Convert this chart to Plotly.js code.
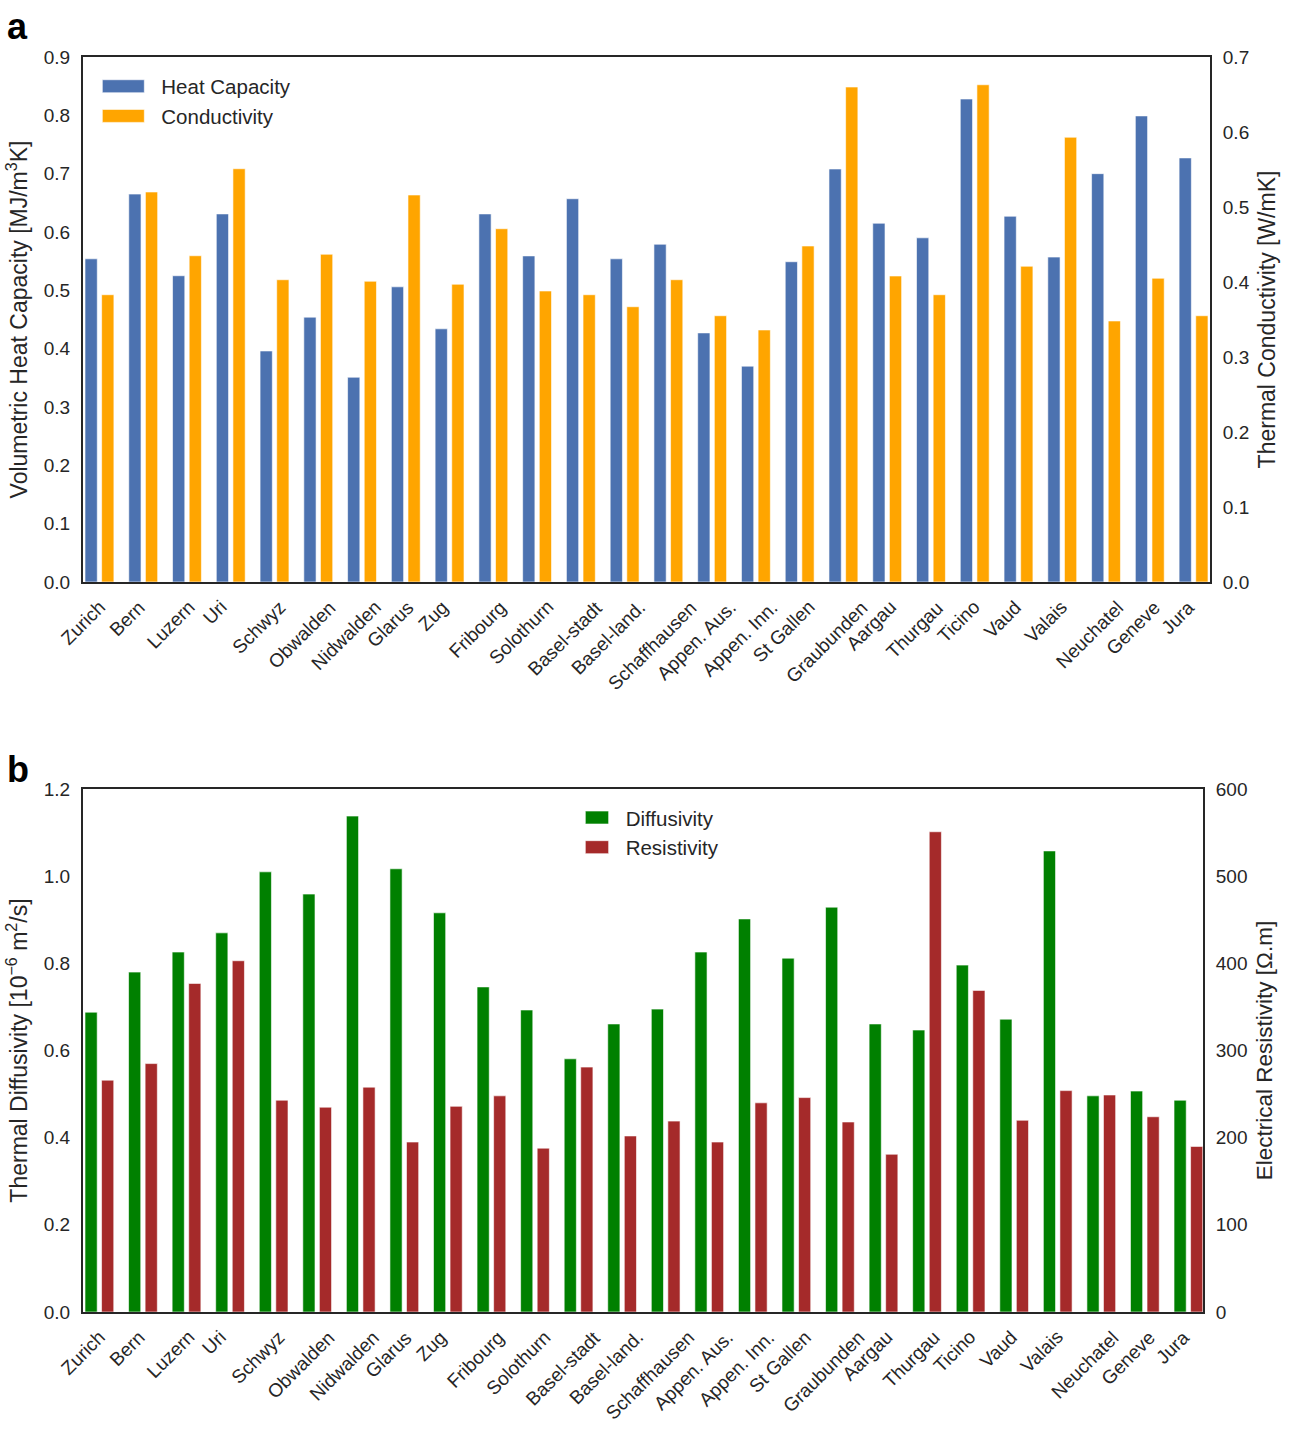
<!DOCTYPE html>
<html>
<head>
<meta charset="utf-8">
<script src="https://cdn.plot.ly/plotly-3.0.1.min.js"></script>
<style>
  html, body { margin: 0; padding: 0; background: #fff; }
  #chart { width: 1290px; height: 1445px; }
</style>
</head>
<body>
<div id="chart"></div>
<script>
const cantons = ["Zurich","Bern","Luzern","Uri","Schwyz","Obwalden","Nidwalden","Glarus","Zug","Fribourg","Solothurn","Basel-stadt","Basel-land.","Schaffhausen","Appen. Aus.","Appen. Inn.","St Gallen","Graubunden","Aargau","Thurgau","Ticino","Vaud","Valais","Neuchatel","Geneve","Jura"];

const heatCapacity = [0.554,0.665,0.525,0.631,0.396,0.454,0.351,0.506,0.434,0.631,0.559,0.657,0.554,0.579,0.427,0.370,0.549,0.708,0.615,0.590,0.828,0.627,0.557,0.700,0.799,0.727];
const conductivity = [0.383,0.520,0.435,0.551,0.403,0.437,0.401,0.516,0.397,0.471,0.388,0.383,0.367,0.403,0.355,0.336,0.448,0.660,0.408,0.383,0.663,0.421,0.593,0.348,0.405,0.355];
const diffusivity = [0.688,0.780,0.826,0.870,1.010,0.959,1.138,1.017,0.916,0.746,0.693,0.581,0.661,0.695,0.826,0.902,0.812,0.929,0.661,0.647,0.796,0.672,1.058,0.496,0.507,0.486];
const resistivity = [266,285,377,403,243,235,258,195,236,248,188,281,202,219,195,240,246,218,181,551,369,220,254,249,224,190];

const FONT = "Liberation Sans, Arial, sans-serif";
const TXT = "#262626";
const edge = {color: "rgba(255,255,255,0.6)", width: 1};
const TOP_DOMAIN = [0.5817, 1];
const BOT_DOMAIN = [0, 0.4167];

const traces = [
  {type:"bar", name:"Heat Capacity", x:cantons, y:heatCapacity, xaxis:"x", yaxis:"y",
   offset:-0.33, width:0.28, marker:{color:"#4C72B0", line:edge}, legend:"legend"},
  {type:"bar", name:"Conductivity", x:cantons, y:conductivity, xaxis:"x", yaxis:"y2",
   offset:0.05, width:0.28, marker:{color:"#FFA500", line:edge}, legend:"legend"},
  {type:"bar", name:"Diffusivity", x:cantons, y:diffusivity, xaxis:"x2", yaxis:"y3",
   offset:-0.33, width:0.28, marker:{color:"#008000", line:edge}, legend:"legend2"},
  {type:"bar", name:"Resistivity", x:cantons, y:resistivity, xaxis:"x2", yaxis:"y4",
   offset:0.05, width:0.28, marker:{color:"#A52A2A", line:edge}, legend:"legend2"}
];

const TICKF = {family:FONT, size:19, color:TXT};
const TITLEF = {family:FONT, size:23, color:TXT};
const axLine = {showline:true, linecolor:"#262626", linewidth:2, showgrid:false, zeroline:false, ticks:"", tickfont:TICKF};

// category labels, rotated and centred under each group like the reference
const catLabels = [];
[["x", TOP_DOMAIN[0]], ["x2", BOT_DOMAIN[0]]].forEach(function(pair){
  cantons.forEach(function(c){
    catLabels.push({text:c, xref:pair[0], yref:"paper", x:c, y:pair[1], xanchor:"center", yanchor:"top",
      textangle:-45, showarrow:false, xshift:-16, yshift:-12, font:TICKF});
  });
});

const layout = {
  width:1290, height:1445,
  margin:{l:83, r:80, t:57, b:133},
  paper_bgcolor:"#fff", plot_bgcolor:"#fff",
  font:{family:FONT, color:TXT, size:19},
  barmode:"overlay",
  xaxis: Object.assign({}, axLine, {domain:[0,1], anchor:"y", type:"category", range:[-0.376,25.376], mirror:true, showticklabels:false}),
  xaxis2: Object.assign({}, axLine, {domain:[0,0.99379], anchor:"y3", type:"category", range:[-0.376,25.335], mirror:true, showticklabels:false}),
  yaxis: Object.assign({}, axLine, {domain:TOP_DOMAIN, anchor:"x", range:[0,0.9], dtick:0.1, tickformat:".1f", ticklabelstandoff:7,
     title:{text:"Volumetric Heat Capacity [MJ/m<sup>3</sup>K]", font:TITLEF, standoff:10}}),
  yaxis2: Object.assign({}, axLine, {overlaying:"y", side:"right", anchor:"x", range:[0,0.7], dtick:0.1, tickformat:".1f", ticklabelstandoff:7,
     title:{text:"Thermal Conductivity [W/mK]", font:TITLEF, standoff:10}}),
  yaxis3: Object.assign({}, axLine, {domain:BOT_DOMAIN, anchor:"x2", range:[0,1.2], dtick:0.2, tickformat:".1f", ticklabelstandoff:7,
     title:{text:"Thermal Diffusivity [10<sup>−6</sup> m<sup>2</sup>/s]", font:TITLEF, standoff:10}}),
  yaxis4: Object.assign({}, axLine, {overlaying:"y3", side:"right", anchor:"x2", range:[0,600], dtick:100, ticklabelstandoff:7,
     title:{text:"Electrical Resistivity [Ω.m]", font:{family:FONT, size:22.5, color:TXT}, standoff:10}}),
  legend:{x:0.034, y:0.9925, xanchor:"left", yanchor:"top", bgcolor:"rgba(0,0,0,0)", font:{family:FONT, size:20.5, color:TXT}, tracegroupgap:0, itemclick:false},
  legend2:{x:0.446, y:0.4098, xanchor:"left", yanchor:"top", bgcolor:"rgba(0,0,0,0)", font:{family:FONT, size:20.5, color:TXT}, tracegroupgap:0, itemclick:false},
  annotations: catLabels.concat([
    {text:"<b>a</b>", xref:"paper", yref:"paper", x:-0.069, y:1.024, xanchor:"left", yanchor:"middle", showarrow:false, font:{family:FONT, size:36, color:"#000"}},
    {text:"<b>b</b>", xref:"paper", yref:"paper", x:-0.069, y:0.432, xanchor:"left", yanchor:"middle", showarrow:false, font:{family:FONT, size:36, color:"#000"}}
  ])
};

Plotly.newPlot("chart", traces, layout, {displayModeBar:false, staticPlot:true}).then(function(){
  document.querySelectorAll(".legend [clip-path]").forEach(function(el){ el.removeAttribute("clip-path"); });
  document.querySelectorAll(".legendpoints path").forEach(function(p){
    p.setAttribute("d","M3,6.5H-39V-6.5H3Z");
  });
});
</script>
</body>
</html>
